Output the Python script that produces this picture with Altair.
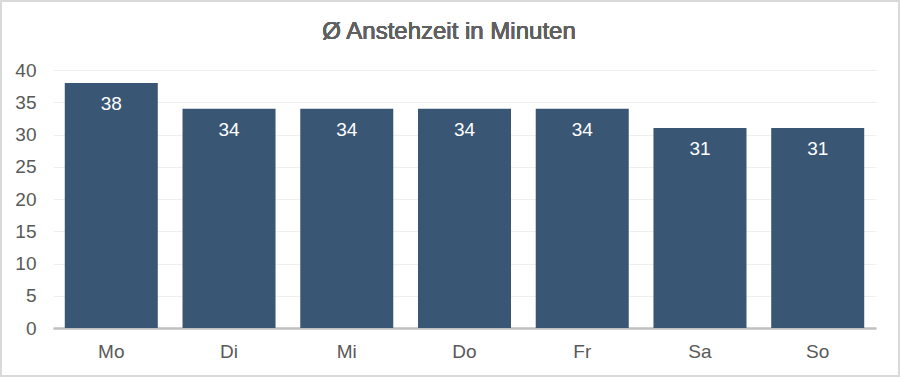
import altair as alt
import pandas as pd

days = ["Mo", "Di", "Mi", "Do", "Fr", "Sa", "So"]
minutes = [38, 34, 34, 34, 34, 31, 31]
y_ticks = [0, 5, 10, 15, 20, 25, 30, 35, 40]

df = pd.DataFrame({"Tag": days, "Minuten": minutes})

FONT = "Liberation Sans"
W, H = 823, 258
PL, PT, PR, PB = 53, 70, 24, 49

xscale = alt.Scale(paddingInner=0.21, paddingOuter=0.1)
yscale = alt.Scale(domain=[0, 40], nice=False)

x = alt.X("Tag:N", sort=days, title=None, scale=xscale,
          axis=alt.Axis(labelAngle=0, labelFontSize=19, labelColor="#595959",
                        labelFont=FONT, labelPadding=14, ticks=False,
                        domainColor="#bfbfbf", domainWidth=2.5, grid=False))
y = alt.Y("Minuten:Q", title=None, scale=yscale,
          axis=alt.Axis(values=y_ticks, labelFontSize=19,
                        labelColor="#595959", labelFont=FONT, labelPadding=17,
                        labelOverlap=False, labelFlush=False,
                        ticks=False, domain=False, gridColor="#efefef", gridWidth=1))

bars = alt.Chart(df).mark_bar(color="#3a5675").encode(x=x, y=y)
labels = alt.Chart(df).mark_text(color="white", fontSize=19, font=FONT,
                                 baseline="middle", dy=21).encode(
    x=x, y=y, text="Minuten:Q")

border = alt.Chart(df).mark_rect(fill=None, stroke="#d9d9d9", strokeWidth=2).encode(
    x=alt.value(-PL + 1), x2=alt.value(W + PR - 1),
    y=alt.value(-PT + 1), y2=alt.value(H + PB - 1))

title_text = alt.Chart(df).mark_text(fontSize=24, font=FONT, color="#606060",
                                     fontWeight="normal",
                                     baseline="middle", align="center").encode(
    x=alt.value(449 - PL), y=alt.value(32 - PT), text=alt.value("Ø Anstehzeit in Minuten"))

chart = alt.layer(bars, labels, border, title_text).properties(
    width=W, height=H,
    padding={"left": PL, "top": PT, "right": PR, "bottom": PB},
    autosize=alt.AutoSizeParams(type="none"),
    background="white",
).configure_view(stroke=None)

chart.save("out.html", embed_options={"renderer": "svg", "actions": False})
